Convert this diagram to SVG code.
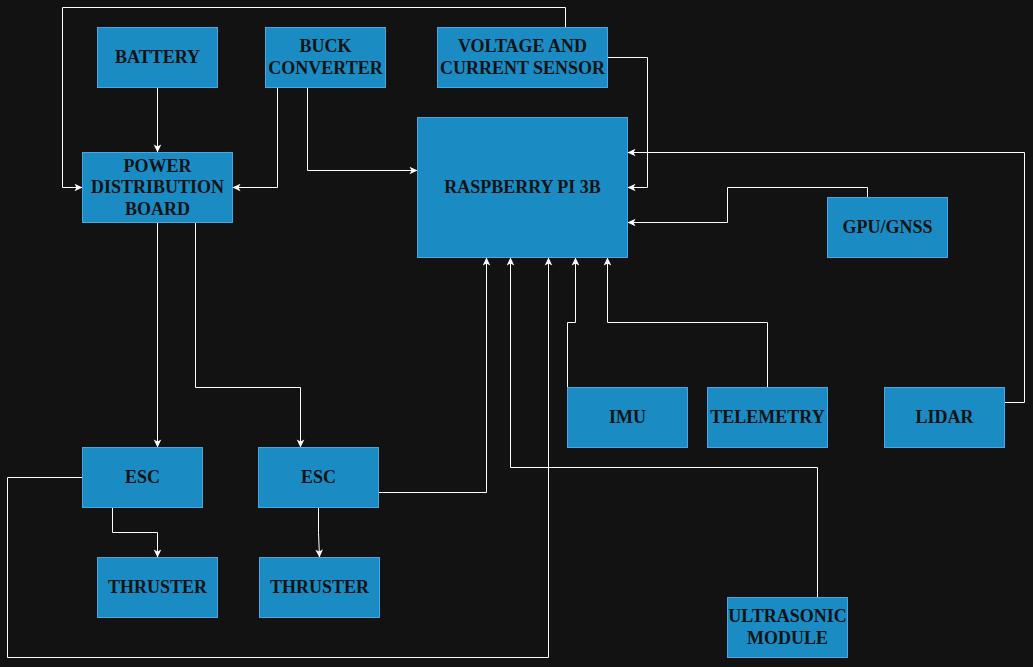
<svg xmlns="http://www.w3.org/2000/svg" width="1033" height="667" viewBox="0 0 1033 667">
<style>
.box{fill:#1b8bc4;stroke:#4aa6e0;stroke-width:1}
.lbl{font-family:"Liberation Serif","Times New Roman",serif;font-weight:bold;font-size:18px;fill:#141414;text-anchor:middle}
.edge{fill:none;stroke:#ffffff;stroke-width:1}
</style>
<defs>
<marker id="arr" viewBox="-9 -5 10 10" refX="0" refY="0" markerWidth="10" markerHeight="10" markerUnits="userSpaceOnUse" orient="auto">
<path d="M0,0 L-8,-3.8 L-6,0 L-8,3.8 Z" fill="#ffffff"/>
</marker>
</defs>
<rect width="1033" height="667" fill="#121212"/>
<g id="connectors">
<path class="edge" marker-end="url(#arr)" d="M157.5,87.5 L157.5,152.5"/>
<path class="edge" marker-end="url(#arr)" d="M277.5,87.5 L277.5,187.5 L232.5,187.5"/>
<path class="edge" marker-end="url(#arr)" d="M307.5,87.5 L307.5,170.5 L417.5,170.5"/>
<path class="edge" marker-end="url(#arr)" d="M565.5,27.5 L565.5,7.5 L62.5,7.5 L62.5,187.5 L82.5,187.5"/>
<path class="edge" marker-end="url(#arr)" d="M607.5,57.5 L647.5,57.5 L647.5,187.5 L627.5,187.5"/>
<path class="edge" marker-end="url(#arr)" d="M1004.5,402.5 L1024.5,402.5 L1024.5,152.5 L627.5,152.5"/>
<path class="edge" marker-end="url(#arr)" d="M867.5,197.5 L867.5,187.5 L727.5,187.5 L727.5,222.5 L627.5,222.5"/>
<path class="edge" marker-end="url(#arr)" d="M567.5,387.5 L567.5,322.5 L575.5,322.5 L575.5,257.5"/>
<path class="edge" marker-end="url(#arr)" d="M767.5,387.5 L767.5,322.5 L607.5,322.5 L607.5,257.5"/>
<path class="edge" marker-end="url(#arr)" d="M817.5,597.5 L817.5,467.5 L510.5,467.5 L510.5,257.5"/>
<path class="edge" marker-end="url(#arr)" d="M378.5,492.5 L486.5,492.5 L486.5,257.5"/>
<path class="edge" marker-end="url(#arr)" d="M82.5,477.5 L7.5,477.5 L7.5,657.5 L548.5,657.5 L548.5,257.5"/>
<path class="edge" marker-end="url(#arr)" d="M157.5,222.5 L157.5,447.5"/>
<path class="edge" marker-end="url(#arr)" d="M195.5,222.5 L195.5,387.5 L300.5,387.5 L300.5,447.5"/>
<path class="edge" marker-end="url(#arr)" d="M112.5,507.5 L112.5,532.5 L157.5,532.5 L157.5,557.5"/>
<path class="edge" marker-end="url(#arr)" d="M318.5,507.5 L318.5,532.5 L319.5,557.5"/>
</g>
<g id="battery"><rect class="box" x="97.5" y="27.5" width="120" height="60"/><text class="lbl" x="157.5" y="63">BATTERY</text></g>
<g id="buck-converter"><rect class="box" x="265.5" y="27.5" width="120" height="60"/><text class="lbl" x="325.5" y="52">BUCK</text><text class="lbl" x="325.5" y="74">CONVERTER</text></g>
<g id="voltage-current-sensor"><rect class="box" x="437.5" y="27.5" width="170" height="60"/><text class="lbl" x="522.5" y="52">VOLTAGE AND</text><text class="lbl" x="522.5" y="74">CURRENT SENSOR</text></g>
<g id="raspberry-pi"><rect class="box" x="417.5" y="117.5" width="210" height="140"/><text class="lbl" x="522.5" y="193">RASPBERRY PI 3B</text></g>
<g id="power-distribution-board"><rect class="box" x="82.5" y="152.5" width="150" height="70"/><text class="lbl" x="157.5" y="171.5">POWER</text><text class="lbl" x="157.5" y="193">DISTRIBUTION</text><text class="lbl" x="157.5" y="214.5">BOARD</text></g>
<g id="gpu-gnss"><rect class="box" x="827.5" y="197.5" width="120" height="60"/><text class="lbl" x="887.5" y="233">GPU/GNSS</text></g>
<g id="imu"><rect class="box" x="567.5" y="387.5" width="120" height="60"/><text class="lbl" x="627.5" y="423">IMU</text></g>
<g id="telemetry"><rect class="box" x="707.5" y="387.5" width="120" height="60"/><text class="lbl" x="767.5" y="423">TELEMETRY</text></g>
<g id="lidar"><rect class="box" x="884.5" y="387.5" width="120" height="60"/><text class="lbl" x="944.5" y="423">LIDAR</text></g>
<g id="esc-1"><rect class="box" x="82.5" y="447.5" width="120" height="60"/><text class="lbl" x="142.5" y="483">ESC</text></g>
<g id="esc-2"><rect class="box" x="258.5" y="447.5" width="120" height="60"/><text class="lbl" x="318.5" y="483">ESC</text></g>
<g id="thruster-1"><rect class="box" x="97.5" y="557.5" width="120" height="60"/><text class="lbl" x="157.5" y="593">THRUSTER</text></g>
<g id="thruster-2"><rect class="box" x="259.5" y="557.5" width="120" height="60"/><text class="lbl" x="319.5" y="593">THRUSTER</text></g>
<g id="ultrasonic-module"><rect class="box" x="727.5" y="597.5" width="120" height="60"/><text class="lbl" x="787.5" y="622">ULTRASONIC</text><text class="lbl" x="787.5" y="644">MODULE</text></g>
</svg>
